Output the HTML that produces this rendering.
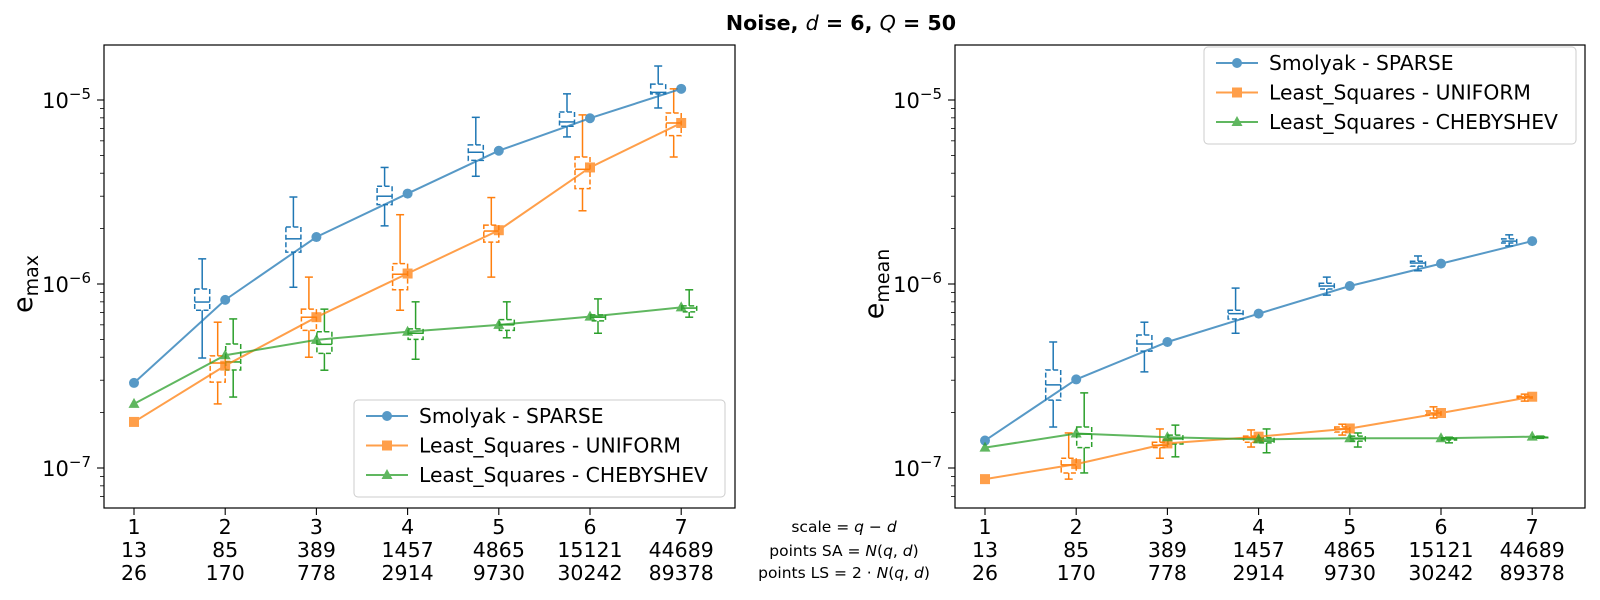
<!DOCTYPE html>
<html><head><meta charset="utf-8">
<style>
body{margin:0;background:#fff;}
svg{display:block;font-family:"DejaVu Sans","Liberation Sans",sans-serif;}
</style></head>
<body>
<svg id="chart" width="1600" height="600" viewBox="0 0 1600 600" xmlns="http://www.w3.org/2000/svg">
<rect width="1600" height="600" fill="#fff"/>
<text x="841" y="30" text-anchor="middle" font-size="20.6" font-weight="bold">Noise, <tspan font-style="italic" font-weight="normal">d</tspan> = 6, <tspan font-style="italic" font-weight="normal">Q</tspan> = 50</text>
<g id="mid" font-size="15.5" text-anchor="middle">
<text x="844" y="532">scale = <tspan font-style="italic">q</tspan> − <tspan font-style="italic">d</tspan></text>
<text x="844" y="556">points SA = <tspan font-style="italic">N</tspan>(<tspan font-style="italic">q</tspan>, <tspan font-style="italic">d</tspan>)</text>
<text x="844" y="578">points LS = 2 · <tspan font-style="italic">N</tspan>(<tspan font-style="italic">q</tspan>, <tspan font-style="italic">d</tspan>)</text>
</g>
</svg>
<script>
const scales=[1,2,3,4,5,6,7];
const ptsSA=["13","85","389","1457","4865","15121","44689"];
const ptsLS=["26","170","778","2914","9730","30242","89378"];
const seriesNames=["Smolyak - SPARSE","Least_Squares - UNIFORM","Least_Squares - CHEBYSHEV"];
// left panel (e_max) line values
const maxSmolyak=[2.9e-7,8.2e-7,1.8e-6,3.1e-6,5.3e-6,7.96e-6,1.15e-5];
const maxUniform=[1.78e-7,3.6e-7,6.6e-7,1.14e-6,1.96e-6,4.3e-6,7.5e-6];
const maxCheb=[2.23e-7,4.1e-7,4.97e-7,5.5e-7,6.0e-7,6.65e-7,7.46e-7];
// right panel (e_mean) line values
const meanSmolyak=[1.41e-7,3.03e-7,4.84e-7,6.9e-7,9.75e-7,1.29e-6,1.71e-6];
const meanUniform=[8.7e-8,1.05e-7,1.36e-7,1.48e-7,1.64e-7,1.99e-7,2.44e-7];
const meanCheb=[1.29e-7,1.54e-7,1.47e-7,1.43e-7,1.45e-7,1.45e-7,1.48e-7];
// box stats [scale, min, q1, median, q3, max]
const boxMaxSmolyak=[[2,3.96e-7,7.2e-7,7.98e-7,9.4e-7,1.37e-6],[3,9.6e-7,1.49e-6,1.76e-6,2.04e-6,2.97e-6],[4,2.07e-6,2.7e-6,3.0e-6,3.4e-6,4.3e-6],[5,3.85e-6,4.7e-6,5.2e-6,5.7e-6,8.05e-6],[6,6.3e-6,7.2e-6,7.6e-6,8.6e-6,1.08e-5],[7,9.05e-6,1.08e-5,1.10e-5,1.22e-5,1.53e-5]];
const boxMaxUniform=[[2,2.23e-7,2.93e-7,3.72e-7,4.07e-7,6.2e-7],[3,4.0e-7,5.6e-7,6.6e-7,7.3e-7,1.09e-6],[4,7.2e-7,9.3e-7,1.13e-6,1.29e-6,2.38e-6],[5,1.09e-6,1.69e-6,1.94e-6,2.09e-6,2.95e-6],[6,2.5e-6,3.3e-6,4.2e-6,4.9e-6,8.3e-6],[7,4.9e-6,6.4e-6,7.5e-6,8.5e-6,1.15e-5]];
const boxMaxCheb=[[2,2.43e-7,3.41e-7,3.77e-7,4.72e-7,6.46e-7],[3,3.4e-7,4.2e-7,4.7e-7,5.5e-7,7.3e-7],[4,3.9e-7,5.0e-7,5.4e-7,5.7e-7,8.0e-7],[5,5.1e-7,5.6e-7,6.0e-7,6.4e-7,8.0e-7],[6,5.4e-7,6.3e-7,6.6e-7,6.8e-7,8.3e-7],[7,6.6e-7,7.05e-7,7.4e-7,7.6e-7,9.3e-7]];
const boxMeanSmolyak=[[2,1.67e-7,2.34e-7,2.83e-7,3.41e-7,4.84e-7],[3,3.33e-7,4.32e-7,4.72e-7,5.28e-7,6.2e-7],[4,5.4e-7,6.45e-7,6.9e-7,7.2e-7,9.5e-7],[5,8.7e-7,9.4e-7,9.75e-7,1.01e-6,1.09e-6],[6,1.18e-6,1.25e-6,1.30e-6,1.33e-6,1.42e-6],[7,1.61e-6,1.67e-6,1.71e-6,1.76e-6,1.85e-6]];
const boxMeanUniform=[[2,8.7e-8,9.4e-8,1.04e-7,1.13e-7,1.55e-7],[3,1.13e-7,1.29e-7,1.33e-7,1.38e-7,1.63e-7],[4,1.30e-7,1.38e-7,1.46e-7,1.49e-7,1.61e-7],[5,1.51e-7,1.57e-7,1.63e-7,1.67e-7,1.73e-7],[6,1.87e-7,1.94e-7,1.99e-7,2.04e-7,2.15e-7],[7,2.31e-7,2.40e-7,2.43e-7,2.46e-7,2.52e-7]];
const boxMeanCheb=[[2,9.4e-8,1.29e-7,1.53e-7,1.67e-7,2.56e-7],[3,1.15e-7,1.35e-7,1.44e-7,1.51e-7,1.71e-7],[4,1.21e-7,1.37e-7,1.40e-7,1.46e-7,1.63e-7],[5,1.30e-7,1.40e-7,1.44e-7,1.49e-7,1.55e-7],[6,1.37e-7,1.42e-7,1.44e-7,1.46e-7,1.47e-7],[7,1.45e-7,1.46e-7,1.47e-7,1.48e-7,1.49e-7]];
const yTickExps=[-5,-6,-7];

const NS="http://www.w3.org/2000/svg";
const svg=document.getElementById('chart');
const colors=["#1f77b4","#ff7f0e","#2ca02c"];
const boxOffsets=[-23,-7.5,8];
const TOP=45,BOT=508;
function yS(v){return 100+(-5-Math.log10(v))*184;}
function mk(tag,attrs,parent){const e=document.createElementNS(NS,tag);for(const k in attrs)e.setAttribute(k,attrs[k]);(parent||svg).appendChild(e);return e;}

function panel(left,right,label,lines,boxes,legend,pname){
  const g=mk('g',{});
  
  
  const xS=v=>left+30+(v-1)*91.2;
  boxes.forEach((bs,si)=>{
    bs.forEach(b=>{
      const cx=xS(b[0])+boxOffsets[si];const c=colors[si];
      const bg=mk('g',{stroke:c,'stroke-width':1.5,fill:'none'},g);
      
      
      mk('line',{x1:cx,x2:cx,y1:yS(b[5]),y2:yS(b[4])},bg);
      mk('line',{x1:cx,x2:cx,y1:yS(b[2]),y2:yS(b[1])},bg);
      mk('line',{x1:cx-4,x2:cx+4,y1:yS(b[5]),y2:yS(b[5])},bg);
      mk('line',{x1:cx-4,x2:cx+4,y1:yS(b[1]),y2:yS(b[1])},bg);
      mk('rect',{x:cx-7.5,y:yS(b[4]),width:15,height:Math.max(0.5,yS(b[2])-yS(b[4])),'stroke-dasharray':'5,2.5'},bg);
      mk('line',{x1:cx-7.5,x2:cx+7.5,y1:yS(b[3]),y2:yS(b[3])},bg);
    });
  });
  lines.forEach((vals,si)=>{
    const c=colors[si];
    const sg=mk('g',{opacity:0.75},g);
    
    
    mk('polyline',{points:vals.map((v,i)=>xS(scales[i])+','+yS(v)).join(' '),fill:'none',stroke:c,'stroke-width':2},sg);
    vals.forEach((v,i)=>{
      const x=xS(scales[i]),y=yS(v);let m;
      if(si==0)m=mk('circle',{cx:x,cy:y,r:5,fill:c},sg);
      else if(si==1)m=mk('rect',{x:x-5,y:y-5,width:10,height:10,fill:c},sg);
      else m=mk('polygon',{points:`${x},${y-6} ${x-5.5},${y+4} ${x+5.5},${y+4}`,fill:c},sg);
      
      
    });
  });
  const fr=mk('rect',{x:left,y:TOP,width:right-left,height:BOT-TOP,fill:'none',stroke:'#000','stroke-width':1.2},g);
  
  
  for(let e=-8;e<=-4;e++){for(let m=1;m<10;m++){const v=m*Math.pow(10,e);const y=yS(v);if(y<TOP||y>BOT)continue;
    mk('line',{x1:left,x2:left-(m==1?7:4),y1:y,y2:y,stroke:'#000','stroke-width':m==1?1.1:0.8},g);}}
  yTickExps.forEach(e=>{
    const t=mk('text',{x:left-13,y:yS(Math.pow(10,e))+8,'text-anchor':'end','font-size':21},g);
    
    
    t.innerHTML='10<tspan dy="-9" font-size="15">−'+(-e)+'</tspan>';
  });
  scales.forEach((s,i)=>{
    const x=xS(s);
    mk('line',{x1:x,x2:x,y1:BOT,y2:BOT+7,stroke:'#000','stroke-width':1.1},g);
    [String(s),ptsSA[i],ptsLS[i]].forEach((txt,k)=>{
      const t=mk('text',{x:x,y:534+k*23,'text-anchor':'middle','font-size':20.5},g);
      
      
      t.textContent=txt;
    });
  });
  const yl=mk('text',{transform:`translate(${left-72},284) rotate(-90)`,'text-anchor':'middle','font-size':27},g);
  
  
  yl.innerHTML='e<tspan dy="6" font-size="19">'+label+'</tspan>';
  const lg=mk('g',{},g);
  
  
  mk('rect',{x:legend.x,y:legend.y,width:legend.w,height:97,rx:4,fill:'#fff','fill-opacity':0.85,stroke:'#ccc','stroke-width':1},lg);
  seriesNames.forEach((n,si)=>{
    const ey=legend.y+16+si*29.5;const c=colors[si];const lx=legend.x+12;
    const eg=mk('g',{},lg);
    
    
    const mg=mk('g',{opacity:0.75},eg);
    mk('line',{x1:lx,x2:lx+42,y1:ey,y2:ey,stroke:c,'stroke-width':2},mg);
    const mx=lx+21;
    if(si==0)mk('circle',{cx:mx,cy:ey,r:5,fill:c},mg);
    else if(si==1)mk('rect',{x:mx-5,y:ey-5,width:10,height:10,fill:c},mg);
    else mk('polygon',{points:`${mx},${ey-6} ${mx-5.5},${ey+4} ${mx+5.5},${ey+4}`,fill:c},mg);
    const t=mk('text',{x:lx+53,y:ey+7,'font-size':20.3},eg);
    t.textContent=n;
  });
}
panel(104,735,'max',[maxSmolyak,maxUniform,maxCheb],[boxMaxSmolyak,boxMaxUniform,boxMaxCheb],{x:354,y:400,w:371},'left-panel-emax');
panel(955,1585,'mean',[meanSmolyak,meanUniform,meanCheb],[boxMeanSmolyak,boxMeanUniform,boxMeanCheb],{x:1204,y:47,w:372},'right-panel-emean');
</script>
</body></html>
